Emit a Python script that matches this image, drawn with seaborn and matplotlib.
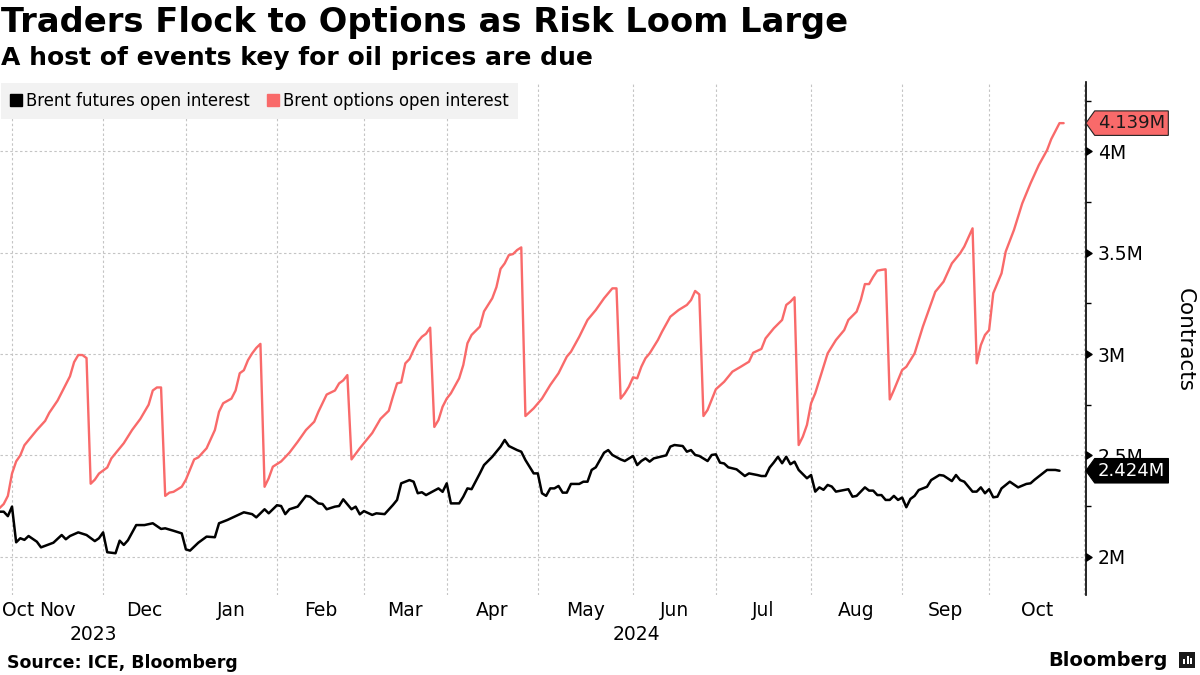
import numpy as np
import pandas as pd
import matplotlib
matplotlib.use("Agg")
import matplotlib.pyplot as plt
import matplotlib.transforms as mtransforms
from matplotlib.lines import Line2D
from matplotlib.path import Path
from matplotlib.patches import Rectangle
from matplotlib.ticker import MultipleLocator, FixedLocator, FuncFormatter, NullFormatter
import seaborn as sns

# ---------------- data (millions of contracts) ----------------
options_dates = [
    "2023-10-27", "2023-10-30", "2023-10-31", "2023-11-01", "2023-11-02", "2023-11-03", "2023-11-06",
    "2023-11-07", "2023-11-09", "2023-11-13", "2023-11-14", "2023-11-16", "2023-11-20", "2023-11-21",
    "2023-11-22", "2023-11-23", "2023-11-24", "2023-11-27", "2023-11-28", "2023-11-29", "2023-11-30",
    "2023-12-04", "2023-12-05", "2023-12-08", "2023-12-12", "2023-12-14", "2023-12-18", "2023-12-19",
    "2023-12-20", "2023-12-21", "2023-12-22", "2023-12-26", "2023-12-27", "2023-12-29", "2024-01-02",
    "2024-01-04", "2024-01-05", "2024-01-09", "2024-01-11", "2024-01-12", "2024-01-15", "2024-01-17",
    "2024-01-18", "2024-01-19", "2024-01-22", "2024-01-23", "2024-01-24", "2024-01-25", "2024-01-26",
    "2024-01-29", "2024-01-30", "2024-01-31", "2024-02-02", "2024-02-06", "2024-02-08", "2024-02-12",
    "2024-02-14", "2024-02-15", "2024-02-19", "2024-02-20", "2024-02-21", "2024-02-22", "2024-02-23",
    "2024-02-26", "2024-02-27", "2024-02-29", "2024-03-05", "2024-03-07", "2024-03-11", "2024-03-12",
    "2024-03-13", "2024-03-14", "2024-03-15", "2024-03-18", "2024-03-19", "2024-03-20", "2024-03-21",
    "2024-03-22", "2024-03-25", "2024-03-26", "2024-03-27", "2024-03-28", "2024-04-01", "2024-04-02",
    "2024-04-04", "2024-04-05", "2024-04-08", "2024-04-09", "2024-04-11", "2024-04-12", "2024-04-16",
    "2024-04-17", "2024-04-18", "2024-04-19", "2024-04-22", "2024-04-23", "2024-04-24", "2024-04-25",
    "2024-04-26", "2024-04-30", "2024-05-02", "2024-05-06", "2024-05-08", "2024-05-10", "2024-05-13",
    "2024-05-15", "2024-05-17", "2024-05-21", "2024-05-23", "2024-05-27", "2024-05-28", "2024-05-29",
    "2024-05-30", "2024-05-31", "2024-06-03", "2024-06-04", "2024-06-05", "2024-06-06", "2024-06-07",
    "2024-06-11", "2024-06-12", "2024-06-14", "2024-06-18", "2024-06-20", "2024-06-21", "2024-06-24",
    "2024-06-25", "2024-06-26", "2024-06-27", "2024-07-01", "2024-07-03", "2024-07-05", "2024-07-09",
    "2024-07-11", "2024-07-12", "2024-07-16", "2024-07-17", "2024-07-19", "2024-07-23", "2024-07-24",
    "2024-07-25", "2024-07-26", "2024-07-29", "2024-07-30", "2024-07-31", "2024-08-01", "2024-08-02",
    "2024-08-07", "2024-08-09", "2024-08-13", "2024-08-14", "2024-08-16", "2024-08-19", "2024-08-20",
    "2024-08-21", "2024-08-22", "2024-08-23", "2024-08-26", "2024-08-27", "2024-08-28", "2024-08-29",
    "2024-09-02", "2024-09-03", "2024-09-05", "2024-09-09", "2024-09-12", "2024-09-16", "2024-09-18",
    "2024-09-20", "2024-09-23", "2024-09-25", "2024-09-26", "2024-09-27", "2024-09-30", "2024-10-01",
    "2024-10-02", "2024-10-04", "2024-10-07", "2024-10-09", "2024-10-11", "2024-10-15", "2024-10-17",
    "2024-10-21", "2024-10-22", "2024-10-24", "2024-10-25",
]
options_oi = [
    2.24, 2.26, 2.30, 2.41, 2.47, 2.50, 2.55,
    2.575, 2.625, 2.67, 2.71, 2.77, 2.85, 2.89,
    2.96, 2.995, 2.995, 2.98, 2.36, 2.38, 2.41,
    2.44, 2.485, 2.56, 2.625, 2.68, 2.75, 2.82,
    2.835, 2.835, 2.30, 2.316, 2.32, 2.345, 2.38,
    2.48, 2.49, 2.535, 2.625, 2.715, 2.757, 2.78,
    2.82, 2.905, 2.92, 2.97, 3.003, 3.03, 3.05,
    2.345, 2.387, 2.444, 2.47, 2.513, 2.567, 2.625,
    2.666, 2.715, 2.80, 2.81, 2.82, 2.855, 2.87,
    2.896, 2.48, 2.535, 2.61, 2.68, 2.72, 2.79,
    2.855, 2.86, 2.954, 2.975, 3.02, 3.06, 3.085,
    3.10, 3.13, 2.64, 2.674, 2.74, 2.78, 2.806,
    2.88, 2.946, 3.053, 3.094, 3.135, 3.21, 3.275,
    3.33, 3.42, 3.447, 3.488, 3.493, 3.513, 3.526,
    2.694, 2.732, 2.78, 2.847, 2.905, 2.987, 3.011,
    3.085, 3.168, 3.217, 3.275, 3.324, 3.324, 2.78,
    2.806, 2.839, 2.885, 2.88, 2.937, 2.979, 3.003,
    3.069, 3.11, 3.184, 3.217, 3.242, 3.266, 3.311,
    3.294, 2.694, 2.724, 2.826, 2.863, 2.913, 2.937,
    2.962, 3.006, 3.025, 3.077, 3.127, 3.168, 3.242,
    3.258, 3.28, 2.551, 2.592, 2.65, 2.757, 2.806,
    3.003, 3.069, 3.118, 3.168, 3.209, 3.266, 3.345,
    3.345, 3.381, 3.411, 3.415, 3.418, 2.776, 2.822,
    2.921, 2.937, 3.003, 3.135, 3.307, 3.357, 3.447,
    3.497, 3.53, 3.62, 2.954, 3.044, 3.094, 3.118,
    3.30, 3.398, 3.505, 3.612, 3.743, 3.842, 3.932,
    4.006, 4.06, 4.139, 4.139,
]

futures_dates = [
    "2023-10-27", "2023-10-30", "2023-10-31", "2023-11-01", "2023-11-02", "2023-11-03", "2023-11-06",
    "2023-11-07", "2023-11-09", "2023-11-10", "2023-11-14", "2023-11-15", "2023-11-17", "2023-11-20",
    "2023-11-21", "2023-11-23", "2023-11-27", "2023-11-29", "2023-11-30", "2023-12-01", "2023-12-04",
    "2023-12-06", "2023-12-07", "2023-12-08", "2023-12-11", "2023-12-13", "2023-12-15", "2023-12-19",
    "2023-12-21", "2023-12-22", "2023-12-27", "2023-12-29", "2024-01-02", "2024-01-03", "2024-01-05",
    "2024-01-09", "2024-01-11", "2024-01-12", "2024-01-16", "2024-01-18", "2024-01-22", "2024-01-24",
    "2024-01-25", "2024-01-29", "2024-01-30", "2024-02-01", "2024-02-02", "2024-02-05", "2024-02-06",
    "2024-02-08", "2024-02-12", "2024-02-13", "2024-02-15", "2024-02-16", "2024-02-19", "2024-02-21",
    "2024-02-22", "2024-02-23", "2024-02-27", "2024-02-28", "2024-02-29", "2024-03-01", "2024-03-05",
    "2024-03-06", "2024-03-08", "2024-03-12", "2024-03-13", "2024-03-14", "2024-03-18", "2024-03-19",
    "2024-03-20", "2024-03-21", "2024-03-22", "2024-03-27", "2024-03-28", "2024-04-01", "2024-04-02",
    "2024-04-04", "2024-04-05", "2024-04-08", "2024-04-09", "2024-04-11", "2024-04-12", "2024-04-16",
    "2024-04-18", "2024-04-19", "2024-04-22", "2024-04-24", "2024-04-25", "2024-04-26", "2024-04-30",
    "2024-05-01", "2024-05-02", "2024-05-03", "2024-05-06", "2024-05-07", "2024-05-08", "2024-05-09",
    "2024-05-10", "2024-05-13", "2024-05-15", "2024-05-16", "2024-05-17", "2024-05-20", "2024-05-21",
    "2024-05-23", "2024-05-24", "2024-05-27", "2024-05-29", "2024-05-30", "2024-06-03", "2024-06-04",
    "2024-06-05", "2024-06-06", "2024-06-07", "2024-06-10", "2024-06-11", "2024-06-13", "2024-06-14",
    "2024-06-17", "2024-06-19", "2024-06-20", "2024-06-21", "2024-06-24", "2024-06-25", "2024-06-27",
    "2024-06-28", "2024-07-01", "2024-07-02", "2024-07-03", "2024-07-04", "2024-07-08", "2024-07-10",
    "2024-07-11", "2024-07-15", "2024-07-16", "2024-07-17", "2024-07-18", "2024-07-19", "2024-07-22",
    "2024-07-23", "2024-07-24", "2024-07-25", "2024-07-26", "2024-07-29", "2024-07-31", "2024-08-01",
    "2024-08-02", "2024-08-05", "2024-08-06", "2024-08-07", "2024-08-08", "2024-08-09", "2024-08-14",
    "2024-08-15", "2024-08-16", "2024-08-20", "2024-08-21", "2024-08-22", "2024-08-23", "2024-08-26",
    "2024-08-27", "2024-08-28", "2024-08-29", "2024-08-30", "2024-09-02", "2024-09-03", "2024-09-04",
    "2024-09-05", "2024-09-06", "2024-09-10", "2024-09-11", "2024-09-13", "2024-09-16", "2024-09-18",
    "2024-09-19", "2024-09-20", "2024-09-23", "2024-09-25", "2024-09-26", "2024-09-27", "2024-09-30",
    "2024-10-01", "2024-10-02", "2024-10-03", "2024-10-04", "2024-10-08", "2024-10-10", "2024-10-14",
    "2024-10-15", "2024-10-16", "2024-10-21", "2024-10-22", "2024-10-23", "2024-10-24",
]
futures_oi = [
    2.222, 2.222, 2.20, 2.247, 2.071, 2.091, 2.083,
    2.102, 2.074, 2.046, 2.061, 2.069, 2.107, 2.086,
    2.102, 2.12, 2.107, 2.077, 2.091, 2.12, 2.022,
    2.017, 2.079, 2.058, 2.081, 2.156, 2.156, 2.165,
    2.137, 2.14, 2.128, 2.115, 2.036, 2.03, 2.069,
    2.099, 2.096, 2.165, 2.181, 2.20, 2.219, 2.21,
    2.194, 2.234, 2.214, 2.254, 2.25, 2.21, 2.234,
    2.247, 2.30, 2.296, 2.263, 2.26, 2.234, 2.247,
    2.25, 2.283, 2.234, 2.247, 2.209, 2.225, 2.206,
    2.214, 2.21, 2.255, 2.28, 2.362, 2.378, 2.37,
    2.313, 2.318, 2.304, 2.337, 2.32, 2.362, 2.263,
    2.263, 2.296, 2.337, 2.333, 2.411, 2.452, 2.493,
    2.543, 2.576, 2.546, 2.526, 2.518, 2.477, 2.411,
    2.411, 2.313, 2.30, 2.337, 2.337, 2.349, 2.316,
    2.316, 2.359, 2.359, 2.37, 2.37, 2.428, 2.441,
    2.513, 2.526, 2.502, 2.48, 2.472, 2.497, 2.452,
    2.472, 2.485, 2.469, 2.485, 2.49, 2.50, 2.543,
    2.551, 2.546, 2.518, 2.526, 2.502, 2.497, 2.472,
    2.502, 2.505, 2.464, 2.46, 2.441, 2.431, 2.398,
    2.411, 2.403, 2.398, 2.398, 2.44, 2.465, 2.493,
    2.461, 2.493, 2.456, 2.469, 2.428, 2.387, 2.403,
    2.321, 2.342, 2.33, 2.354, 2.346, 2.321, 2.333,
    2.296, 2.30, 2.342, 2.326, 2.326, 2.304, 2.304,
    2.28, 2.28, 2.30, 2.28, 2.292, 2.244, 2.285,
    2.30, 2.329, 2.345, 2.378, 2.403, 2.40, 2.373,
    2.403, 2.378, 2.37, 2.321, 2.321, 2.342, 2.313,
    2.333, 2.293, 2.296, 2.337, 2.37, 2.342, 2.359,
    2.362, 2.38, 2.428, 2.428, 2.428, 2.424,
]

series_names = ["Brent futures open interest", "Brent options open interest"]
month_labels = ["Oct", "Nov", "Dec", "Jan", "Feb", "Mar", "Apr", "May", "Jun",
                "Jul", "Aug", "Sep", "Oct"]
month_starts = ["2023-11-01", "2023-12-01", "2024-01-01", "2024-02-01", "2024-03-01",
                "2024-04-01", "2024-05-01", "2024-06-01", "2024-07-01", "2024-08-01",
                "2024-09-01", "2024-10-01", "2024-11-01"]
year_labels = ["2023", "2024"]
y_ticks = [2.0, 2.5, 3.0, 3.5, 4.0]
holidays = ["2023-12-25", "2024-01-01", "2024-03-29"]

# ---------------- styling ----------------
RED = "#f96a6a"
BLACK = "#000000"
GRID = "#c4c4c4"

sns.set_style("white")
plt.rcParams["font.family"] = ["DejaVu Sans"]
plt.rcParams["text.color"] = "black"
plt.rcParams["axes.labelcolor"] = "black"
plt.rcParams["xtick.color"] = "black"
plt.rcParams["ytick.color"] = "black"

ORIGIN = "2023-11-01"


def trading_index(dates):
    d = np.array(dates, dtype="datetime64[D]")
    return np.busday_count(np.datetime64(ORIGIN), d, holidays=holidays)


df_fut = pd.DataFrame({"t": trading_index(futures_dates), "oi": futures_oi})
df_opt = pd.DataFrame({"t": trading_index(options_dates), "oi": options_oi})

W, H = 1200, 675
fig = plt.figure(figsize=(W / 100, H / 100), dpi=100)
ax_left, ax_right, ax_top, ax_bottom = 0, 1086, 82, 595
ax = fig.add_axes([ax_left / W, 1 - ax_bottom / H, (ax_right - ax_left) / W,
                   (ax_bottom - ax_top) / H])

sns.lineplot(data=df_opt, x="t", y="oi", color=RED, lw=1.7, ax=ax, legend=False, zorder=3)
sns.lineplot(data=df_fut, x="t", y="oi", color=BLACK, lw=1.8, ax=ax, legend=False, zorder=3)

XMIN, XMAX = -2.9, 259.4
ax.set_xlim(XMIN, XMAX)
ax.set_ylim(1.811, 4.342)
ax.set_xlabel("")
ax.set_ylabel("")

# month gridlines at first trading day of each month
ms = np.busday_offset(np.array(month_starts, dtype="datetime64[D]"), 0,
                      roll="forward", holidays=holidays)
ms_idx = trading_index(ms)
ax.xaxis.set_major_locator(FixedLocator(ms_idx))
ax.xaxis.set_major_formatter(NullFormatter())
ax.tick_params(axis="x", which="both", length=0, bottom=False, top=False)

# y axis on the right
ax.yaxis.tick_right()
ax.yaxis.set_major_locator(FixedLocator(y_ticks))
ax.yaxis.set_minor_locator(MultipleLocator(0.25))
ax.yaxis.set_major_formatter(FuncFormatter(lambda v, p: f"{v:g}M"))
ax.tick_params(axis="y", which="major", direction="out", length=8, width=1,
               pad=0.5, labelsize=13.5, colors="black", right=True, left=False)
ax.tick_params(axis="y", which="minor", direction="out", length=3.6, width=1,
               colors="black", right=True, left=False)

for s in ["left", "top", "bottom"]:
    ax.spines[s].set_visible(False)
ax.spines["right"].set_visible(True)
ax.spines["right"].set_color("black")
ax.spines["right"].set_linewidth(1.2)

ax.grid(True, which="major", axis="both", color=GRID, lw=0.8, ls=(0, (2.2, 2.2)))
ax.set_axisbelow(True)

tri = Path([(0, -0.65), (1, 0), (0, 0.65), (0, -0.65)],
           [Path.MOVETO, Path.LINETO, Path.LINETO, Path.CLOSEPOLY])
for t in ax.yaxis.get_major_ticks():
    t.tick2line.set_marker(tri)
    t.tick2line.set_markersize(8)
    t.tick2line.set_markerfacecolor("black")
    t.tick2line.set_markeredgecolor("black")

# month and year labels
xt = mtransforms.blended_transform_factory(ax.transData, fig.transFigure)
y_month = 1 - 610 / H
y_year = 1 - 634 / H
ax.text(XMIN + 0.6, y_month, month_labels[0], transform=xt, ha="left", va="center",
        fontsize=13.5, clip_on=False)
for i in range(len(ms_idx) - 1):
    mid = (ms_idx[i] + ms_idx[i + 1]) / 2
    ax.text(mid, y_month, month_labels[i + 1], transform=xt, ha="center", va="center",
            fontsize=13.5, clip_on=False)
jan_idx = ms_idx[2]
ax.text((XMIN + jan_idx) / 2, y_year, year_labels[0], transform=xt, ha="center",
        va="center", fontsize=13.5, clip_on=False)
ax.text((jan_idx + XMAX) / 2, y_year, year_labels[1], transform=xt, ha="center",
        va="center", fontsize=13.5, clip_on=False)

# legend
handles = [Line2D([], [], marker="s", ls="none", color=BLACK, ms=8),
           Line2D([], [], marker="s", ls="none", color=RED, ms=8)]
leg = ax.legend(handles, series_names, loc="upper left", bbox_to_anchor=(0, 1.0),
                ncol=2, frameon=True, facecolor="#f2f2f2", edgecolor="none",
                fancybox=False, framealpha=1, fontsize=11.9, handlelength=0.7,
                handletextpad=0.3, columnspacing=1.0, borderpad=0.55,
                borderaxespad=0.05)
leg.set_zorder(5)


# end-value tags
def tag_box(x0, y0, width, height, mutation_size):
    pad = 0.18 * mutation_size
    x0, y0 = x0 - pad, y0 - pad
    width, height = width + 2 * pad, height + 2 * pad
    tip = 0.36 * height
    verts = [(x0 - tip, y0 + height / 2), (x0, y0), (x0 + width, y0),
             (x0 + width, y0 + height), (x0, y0 + height), (x0 - tip, y0 + height / 2)]
    codes = [Path.MOVETO, Path.LINETO, Path.LINETO, Path.LINETO, Path.LINETO, Path.CLOSEPOLY]
    return Path(verts, codes)


last_opt = options_oi[-1]
last_fut = futures_oi[-1]
ax.annotate(f"{last_opt:.3f}M", xy=(1, last_opt), xycoords=("axes fraction", "data"),
            xytext=(8.6, 0), textcoords="offset points", ha="left", va="center",
            fontsize=13, color="#1a1a1a", zorder=10, annotation_clip=False,
            bbox=dict(boxstyle=tag_box, fc=RED, ec="#222222", lw=0.8))
ax.annotate(f"{last_fut:.3f}M", xy=(1, last_fut), xycoords=("axes fraction", "data"),
            xytext=(8.6, 0), textcoords="offset points", ha="left", va="center",
            fontsize=13, color="white", zorder=10, annotation_clip=False,
            bbox=dict(boxstyle=tag_box, fc="black", ec="black", lw=0.8))

# titles and footer
fig.text(1 / W, 1 - 32 / H, "Traders Flock to Options as Risk Loom Large",
         fontsize=24.3, fontweight="bold", ha="left", va="baseline")
fig.text(1 / W, 1 - 65 / H, "A host of events key for oil prices are due",
         fontsize=18, fontweight="bold", ha="left", va="baseline")
fig.text(1185 / W, 1 - 340 / H, "Contracts", rotation=270, fontsize=15.5,
         ha="center", va="center")
fig.text(7 / W, 1 - 668 / H, "Source: ICE, Bloomberg", fontsize=12.5,
         fontweight="bold", ha="left", va="baseline")
fig.text(1168 / W, 1 - 666 / H, "Bloomberg", fontsize=14, fontweight="bold",
         ha="right", va="baseline")
fig.patches.append(Rectangle((1179 / W, 1 - 668 / H), 16 / W, 16 / H,
                             transform=fig.transFigure, fc="#1a1a1a", ec="none"))
for bx, bh in [(1183, 5), (1186.5, 8), (1190, 6)]:
    fig.patches.append(Rectangle((bx / W, 1 - 664 / H), 2 / W, bh / H,
                                 transform=fig.transFigure, fc="white", ec="none"))

fig.savefig("out.png", dpi=100, facecolor="white")
